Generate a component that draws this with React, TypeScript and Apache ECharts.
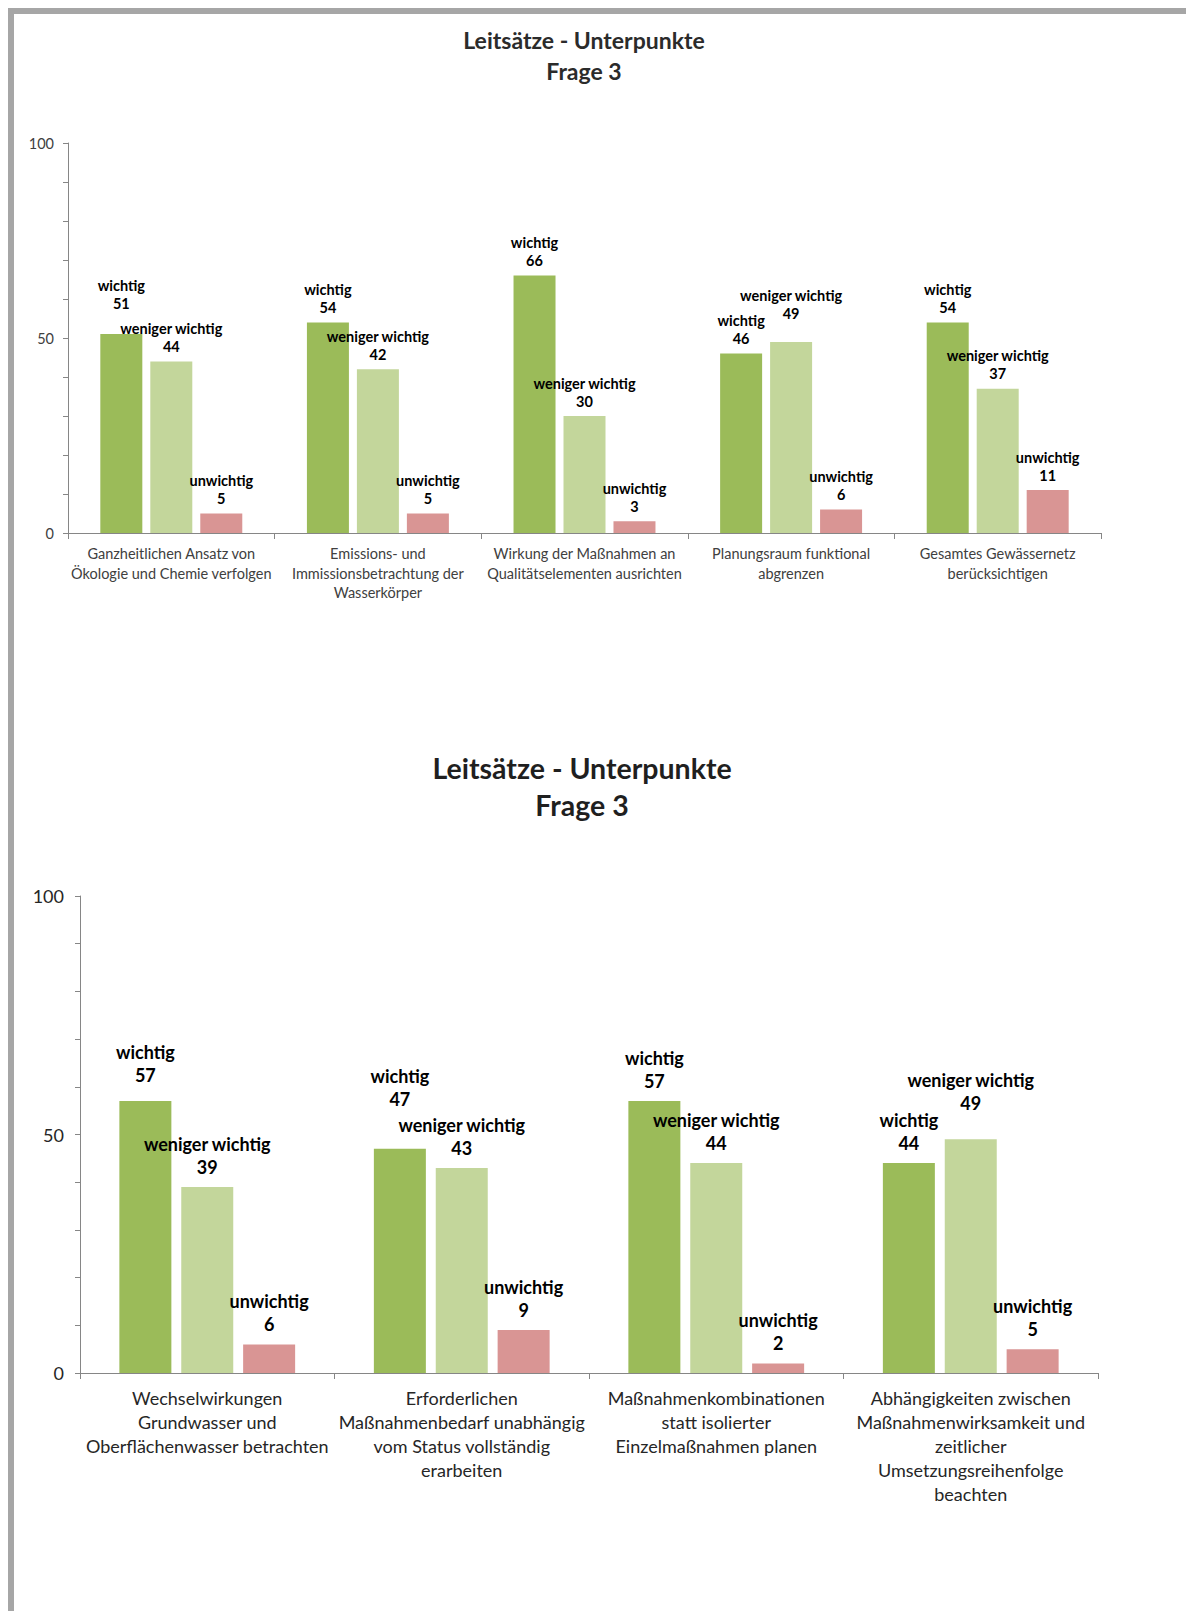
import React, { useEffect, useRef } from "react";
import * as echarts from "echarts";

const seriesNames = ["wichtig", "weniger wichtig", "unwichtig"];
const colors = ["#9bbb59", "#c3d69b", "#d99594"];

const categories1 = [
  "Ganzheitlichen Ansatz von\nÖkologie und Chemie verfolgen",
  "Emissions- und\nImmissionsbetrachtung der\nWasserkörper",
  "Wirkung der Maßnahmen an\nQualitätselementen ausrichten",
  "Planungsraum funktional\nabgrenzen",
  "Gesamtes Gewässernetz\nberücksichtigen",
];
const wichtig1 = [51, 54, 66, 46, 54];
const wenigerWichtig1 = [44, 42, 30, 49, 37];
const unwichtig1 = [5, 5, 3, 6, 11];

const categories2 = [
  "Wechselwirkungen\nGrundwasser und\nOberflächenwasser betrachten",
  "Erforderlichen\nMaßnahmenbedarf unabhängig\nvom Status vollständig\nerarbeiten",
  "Maßnahmenkombinationen\nstatt isolierter\nEinzelmaßnahmen planen",
  "Abhängigkeiten zwischen\nMaßnahmenwirksamkeit und\nzeitlicher\nUmsetzungsreihenfolge\nbeachten",
];
const wichtig2 = [57, 47, 57, 44];
const wenigerWichtig2 = [39, 43, 44, 49];
const unwichtig2 = [6, 9, 2, 5];

const yTickLabels = [0, 50, 100];
const titleText = "Leitsätze - Unterpunkte\nFrage 3";

// extra upward shifts of some data labels (as placed in the original)
const lift1 = [
  [16, 0, 0, 0, 0],
  [0, 0, 0, 13, 0],
  [0, 0, 0, 0, 0],
];
const lift2 = [
  [6, 30, 0, 0],
  [0, 0, 0, 16],
  [0, 0, 0, 0],
];

const FONT = "Lato, 'Open Sans', sans-serif";

export default function App() {
  const ref = useRef<HTMLDivElement>(null);

  useEffect(() => {
    if (!ref.current) return;
    const chart = echarts.init(ref.current, null, { renderer: "svg" });

    const axisColor = "#868686";

    const makeSeries = (
      values: number[][],
      lifts: number[][],
      idx: number,
      barWidth: number,
      fontSize: number,
      lineHeight: number,
      distance: number
    ) =>
      values.map((vals, s) => ({
        name: seriesNames[s],
        type: "bar",
        xAxisIndex: idx,
        yAxisIndex: idx,
        barWidth,
        barGap: "19%",
        itemStyle: { color: colors[s] },
        label: {
          show: true,
          position: "top",
          distance,
          formatter: "{a}\n{c}",
          fontFamily: FONT,
          fontWeight: "bold",
          fontSize,
          lineHeight,
          color: "#000",
        },
        data: vals.map((v, i) => ({
          value: v,
          label: { offset: [0, -lifts[s][i]] },
        })),
      }));

    const yAxis = (idx: number, fontSize: number, margin: number, color: string) => ({
      type: "value",
      gridIndex: idx,
      min: 0,
      max: 100,
      interval: 10,
      splitLine: { show: false },
      axisLine: { show: true, lineStyle: { color: axisColor } },
      axisTick: { show: true, length: 5, lineStyle: { color: axisColor } },
      axisLabel: {
        margin,
        fontFamily: FONT,
        fontSize,
        color,
        formatter: (v: number) => (yTickLabels.includes(v) ? String(v) : ""),
      },
    });

    const xAxis = (
      idx: number,
      cats: string[],
      fontSize: number,
      lineHeight: number,
      margin: number,
      color: string
    ) => ({
      type: "category",
      gridIndex: idx,
      data: cats,
      axisLine: { show: true, lineStyle: { color: axisColor } },
      axisTick: { show: true, length: 6, alignWithLabel: false, lineStyle: { color: axisColor } },
      axisLabel: {
        interval: 0,
        margin,
        fontFamily: FONT,
        fontSize,
        lineHeight,
        color,
        align: "center",
      },
    });

    chart.setOption({
      animation: false,
      backgroundColor: "#ffffff",
      graphic: [
        {
          type: "text",
          x: 570,
          y: 10,
          style: {
            text: titleText,
            align: "center",
            verticalAlign: "top",
            fontFamily: FONT,
            fontWeight: "bold",
            fontSize: 23,
            lineHeight: 31,
            fill: "#2b2b2b",
          },
        },
        {
          type: "text",
          x: 568,
          y: 735,
          style: {
            text: titleText,
            align: "center",
            verticalAlign: "top",
            fontFamily: FONT,
            fontWeight: "bold",
            fontSize: 28.5,
            lineHeight: 37,
            fill: "#1f1f1f",
          },
        },
      ],
      grid: [
        { left: 54, top: 129, width: 1033, height: 390 },
        { left: 66, top: 882, width: 1018, height: 477 },
      ],
      xAxis: [
        xAxis(0, categories1, 14.5, 19.5, 11, "#404040"),
        xAxis(1, categories2, 18, 24, 13, "#262626"),
      ],
      yAxis: [yAxis(0, 14.5, 14, "#404040"), yAxis(1, 18, 16, "#262626")],
      series: [
        ...makeSeries([wichtig1, wenigerWichtig1, unwichtig1], lift1, 0, 42, 14.5, 18, 6),
        ...makeSeries([wichtig2, wenigerWichtig2, unwichtig2], lift2, 1, 52, 18, 23, 8.5),
      ],
    });

    return () => chart.dispose();
  }, []);

  return (
    <div
      style={{
        width: 1180,
        height: 1597,
        borderTop: "6px solid #a6a6a6",
        borderLeft: "6px solid #a6a6a6",
      }}
    >
      <div ref={ref} style={{ width: 1180, height: 1597 }} />
    </div>
  );
}
